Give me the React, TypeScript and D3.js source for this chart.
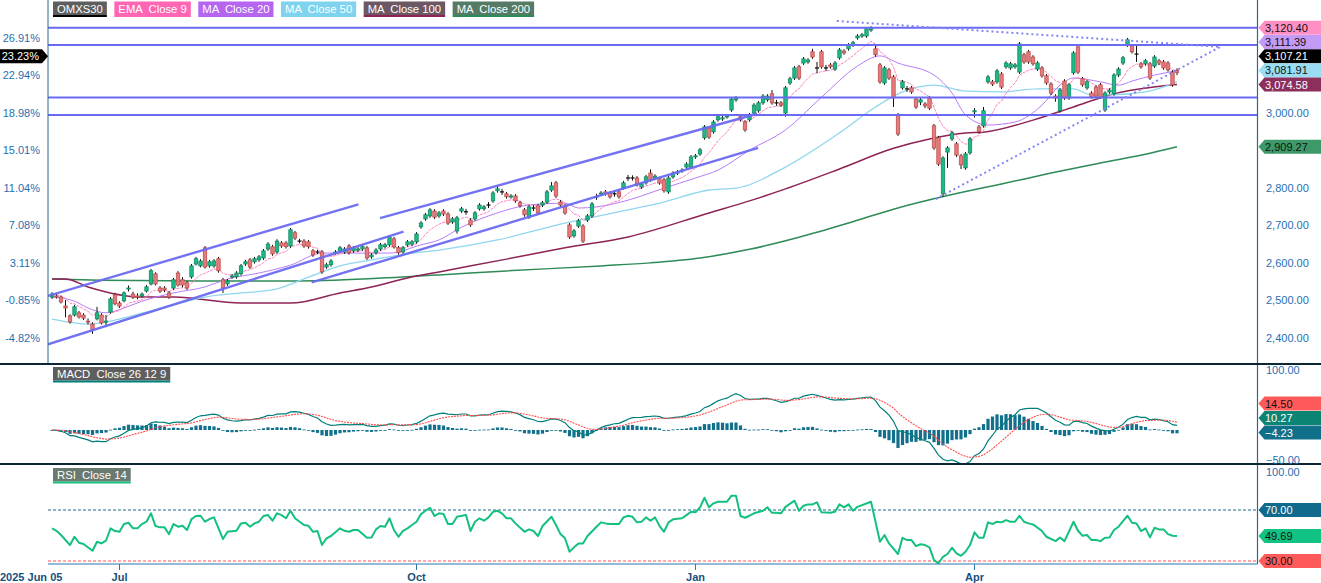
import React, { useEffect, useRef } from "react";
import * as d3 from "d3";

// daily candles from 2025 Jun 05: [open, high, low, close]
const ohlc = [
  [2509, 2522, 2504, 2517], [2512, 2518, 2505, 2509], [2509, 2513, 2492, 2496], [2485, 2501, 2455, 2480], [2459, 2463, 2438, 2443],
  [2461, 2488, 2457, 2483], [2467, 2472, 2452, 2456], [2461, 2466, 2448, 2453], [2445, 2452, 2436, 2443], [2437, 2442, 2411, 2422],
  [2451, 2483, 2447, 2467], [2461, 2466, 2436, 2440], [2443, 2461, 2429, 2445], [2469, 2509, 2465, 2504], [2515, 2520, 2487, 2491],
  [2493, 2498, 2480, 2485], [2499, 2524, 2495, 2520], [2531, 2540, 2524, 2533], [2517, 2523, 2504, 2509], [2512, 2519, 2503, 2509],
  [2512, 2521, 2508, 2517], [2525, 2541, 2521, 2536], [2544, 2584, 2540, 2579], [2571, 2575, 2540, 2544], [2533, 2538, 2520, 2525],
  [2533, 2538, 2522, 2528], [2520, 2525, 2504, 2509], [2533, 2560, 2528, 2555], [2573, 2578, 2537, 2541], [2555, 2562, 2535, 2541],
  [2547, 2552, 2528, 2533], [2563, 2597, 2558, 2592], [2597, 2616, 2593, 2611], [2592, 2610, 2588, 2605], [2640, 2645, 2585, 2589],
  [2592, 2608, 2587, 2603], [2592, 2610, 2587, 2605], [2611, 2616, 2574, 2579], [2555, 2560, 2520, 2533], [2544, 2557, 2539, 2552],
  [2563, 2570, 2558, 2565], [2563, 2578, 2558, 2573], [2571, 2597, 2566, 2592], [2597, 2608, 2592, 2603], [2608, 2613, 2584, 2589],
  [2603, 2616, 2598, 2611], [2608, 2621, 2603, 2616], [2613, 2637, 2608, 2632], [2637, 2655, 2632, 2650], [2643, 2648, 2619, 2624],
  [2629, 2663, 2624, 2658], [2653, 2658, 2640, 2645], [2653, 2658, 2638, 2643], [2645, 2693, 2640, 2688], [2680, 2685, 2661, 2666],
  [2658, 2664, 2652, 2658], [2658, 2663, 2640, 2645], [2656, 2661, 2638, 2643], [2632, 2637, 2616, 2621], [2629, 2635, 2623, 2629],
  [2629, 2634, 2571, 2576], [2589, 2600, 2584, 2595], [2595, 2610, 2590, 2605], [2627, 2634, 2622, 2629], [2632, 2645, 2627, 2640],
  [2629, 2642, 2624, 2637], [2645, 2650, 2622, 2627], [2632, 2645, 2627, 2640], [2634, 2642, 2629, 2637], [2637, 2648, 2632, 2643],
  [2640, 2645, 2608, 2613], [2616, 2626, 2611, 2621], [2627, 2639, 2622, 2634], [2637, 2653, 2632, 2648], [2643, 2653, 2638, 2648],
  [2648, 2674, 2643, 2669], [2664, 2669, 2638, 2643], [2640, 2645, 2622, 2627], [2629, 2645, 2624, 2640], [2648, 2661, 2643, 2656],
  [2650, 2661, 2645, 2656], [2656, 2682, 2651, 2677], [2696, 2711, 2691, 2706], [2717, 2733, 2712, 2728], [2725, 2746, 2720, 2741],
  [2738, 2743, 2717, 2722], [2725, 2738, 2720, 2733], [2738, 2743, 2725, 2730], [2730, 2735, 2701, 2706], [2709, 2722, 2704, 2717],
  [2685, 2725, 2678, 2720], [2738, 2749, 2733, 2744], [2736, 2744, 2728, 2736], [2714, 2719, 2696, 2701], [2717, 2738, 2712, 2733],
  [2744, 2759, 2739, 2754], [2744, 2754, 2739, 2749], [2754, 2762, 2746, 2754], [2765, 2791, 2760, 2786], [2792, 2806, 2787, 2797],
  [2789, 2797, 2781, 2789], [2784, 2789, 2771, 2776], [2776, 2783, 2771, 2778], [2778, 2783, 2760, 2765], [2760, 2765, 2747, 2752],
  [2741, 2746, 2723, 2728], [2722, 2754, 2717, 2749], [2746, 2754, 2738, 2746], [2752, 2757, 2728, 2733], [2754, 2765, 2749, 2760],
  [2762, 2794, 2757, 2789], [2794, 2815, 2789, 2805], [2813, 2818, 2773, 2778], [2762, 2767, 2749, 2754], [2752, 2757, 2728, 2733],
  [2701, 2706, 2664, 2669], [2672, 2690, 2667, 2685], [2698, 2717, 2693, 2712], [2698, 2703, 2653, 2658], [2714, 2730, 2709, 2725],
  [2725, 2762, 2720, 2757], [2776, 2784, 2768, 2776], [2784, 2791, 2779, 2786], [2789, 2794, 2779, 2784], [2786, 2791, 2771, 2776],
  [2784, 2792, 2776, 2784], [2789, 2794, 2771, 2776], [2800, 2818, 2795, 2813], [2826, 2834, 2818, 2826], [2826, 2833, 2819, 2826],
  [2826, 2831, 2803, 2808], [2802, 2815, 2797, 2810], [2813, 2834, 2808, 2829], [2839, 2849, 2816, 2821], [2826, 2836, 2821, 2831],
  [2824, 2829, 2808, 2813], [2821, 2826, 2787, 2792], [2789, 2831, 2784, 2826], [2829, 2844, 2824, 2839], [2839, 2847, 2834, 2842],
  [2845, 2852, 2840, 2847], [2855, 2868, 2850, 2863], [2855, 2887, 2850, 2882], [2882, 2890, 2877, 2885], [2890, 2906, 2885, 2901],
  [2933, 2967, 2928, 2962], [2959, 2964, 2930, 2935], [2949, 2980, 2944, 2975], [2981, 2994, 2976, 2989], [2983, 2991, 2978, 2986],
  [2989, 2996, 2984, 2991], [3007, 3041, 3002, 3036], [3034, 3044, 3029, 3039], [2989, 2994, 2976, 2981], [2975, 2980, 2949, 2954],
  [2981, 2999, 2976, 2994], [2999, 3025, 2994, 3020], [3005, 3031, 3000, 3026], [3026, 3049, 3021, 3044], [3034, 3049, 3029, 3044],
  [3050, 3060, 3021, 3026], [3026, 3034, 3018, 3026], [3026, 3031, 3015, 3020], [2999, 3071, 2989, 3066], [3079, 3095, 3074, 3090],
  [3092, 3124, 3087, 3119], [3122, 3127, 3087, 3092], [3132, 3148, 3127, 3143], [3135, 3145, 3130, 3140], [3162, 3170, 3143, 3148],
  [3119, 3135, 3105, 3119], [3162, 3167, 3117, 3122], [3119, 3127, 3111, 3119], [3127, 3132, 3117, 3122], [3116, 3137, 3111, 3132],
  [3146, 3172, 3141, 3167], [3164, 3169, 3154, 3159], [3170, 3185, 3165, 3180], [3180, 3191, 3175, 3186], [3199, 3209, 3194, 3204],
  [3204, 3212, 3199, 3207], [3204, 3228, 3199, 3223], [3220, 3230, 3215, 3223], [3170, 3178, 3149, 3154], [3127, 3132, 3077, 3082],
  [3079, 3124, 3074, 3119], [3114, 3119, 3087, 3092], [3095, 3100, 3015, 3039], [2994, 2999, 2938, 2943], [3066, 3087, 3061, 3082],
  [3063, 3071, 3055, 3063], [3066, 3071, 3050, 3055], [3036, 3041, 3010, 3015], [3028, 3039, 3020, 3034], [3023, 3028, 3012, 3018],
  [3039, 3044, 3007, 3012], [2965, 2970, 2901, 2906], [2933, 2938, 2858, 2863], [2784, 2884, 2776, 2879], [2895, 2911, 2853, 2906],
  [2930, 2951, 2925, 2946], [2917, 2922, 2882, 2887], [2885, 2890, 2850, 2861], [2853, 2895, 2848, 2890], [2893, 2935, 2888, 2930],
  [3002, 3012, 2987, 3005], [2962, 2967, 2944, 2949], [2965, 3015, 2960, 3005], [3082, 3100, 3077, 3095], [3082, 3087, 3071, 3076],
  [3082, 3116, 3077, 3111], [3103, 3108, 3063, 3068], [3122, 3137, 3117, 3132], [3119, 3135, 3114, 3130], [3122, 3132, 3117, 3127],
  [3108, 3188, 3103, 3183], [3154, 3159, 3130, 3135], [3162, 3167, 3130, 3135], [3148, 3153, 3125, 3130], [3116, 3137, 3111, 3132],
  [3119, 3124, 3093, 3098], [3098, 3103, 3074, 3079], [3076, 3081, 3047, 3052], [3044, 3049, 3029, 3039], [3005, 3065, 3000, 3060],
  [3084, 3089, 3034, 3039], [3039, 3079, 3034, 3074], [3106, 3164, 3101, 3159], [3175, 3180, 3103, 3108], [3090, 3095, 3069, 3074],
  [3066, 3087, 3061, 3082], [3052, 3057, 3037, 3042], [3068, 3073, 3039, 3044], [3074, 3079, 3037, 3042], [3007, 3057, 3002, 3052],
  [3055, 3065, 3050, 3060], [3050, 3105, 3045, 3100], [3100, 3121, 3095, 3116], [3132, 3151, 3127, 3146], [3180, 3199, 3175, 3194],
  [3178, 3183, 3157, 3162], [3156, 3180, 3135, 3156], [3130, 3135, 3117, 3122], [3130, 3143, 3125, 3138], [3130, 3135, 3087, 3092],
  [3124, 3153, 3119, 3148], [3138, 3143, 3127, 3132], [3135, 3140, 3114, 3119], [3132, 3137, 3109, 3114], [3108, 3113, 3069, 3074],
  [3112, 3118, 3100, 3107.21],
];

// moving averages: [day index, price]
const ma20Pts = [
  [0, 2509], [5, 2498], [8, 2480], [12, 2467], [16, 2480], [20, 2498], [27, 2520], [34, 2536], [39, 2557], [46, 2573],
  [53, 2594], [60, 2626], [68, 2626], [75, 2626], [82, 2648], [86, 2661], [91, 2695], [99, 2733], [106, 2754], [114, 2759],
  [117, 2746], [121, 2749], [128, 2767], [136, 2799], [143, 2826], [148, 2847], [155, 2900], [163, 2954], [171, 3041],
  [179, 3124], [184, 3151], [188, 3132], [196, 3100], [200, 3052], [203, 2994], [208, 2967], [214, 2975], [220, 3020],
  [224, 3073], [227, 3092], [233, 3082], [237, 3073], [240, 3084], [245, 3100], [250, 3111.39],
];
const ma50Pts = [
  [0, 2450], [5, 2440], [8, 2437], [12, 2443], [20, 2466], [27, 2488], [34, 2509], [42, 2520], [49, 2528], [57, 2562],
  [64, 2592], [71, 2608], [79, 2624], [86, 2634], [99, 2661], [114, 2706], [128, 2741], [136, 2762], [146, 2794],
  [152, 2799], [163, 2855], [175, 2946], [183, 3015], [189, 3055], [196, 3073], [203, 3057], [211, 3055], [219, 3063],
  [227, 3063], [231, 3047], [235, 3047], [243, 3055], [250, 3081.91],
];
const ma100Pts = [
  [0, 2557], [3, 2557], [8, 2536], [20, 2509], [27, 2509], [42, 2493], [53, 2493], [64, 2520], [71, 2536], [79, 2560],
  [86, 2576], [101, 2610], [114, 2640], [128, 2669], [146, 2733], [155, 2765], [163, 2797], [175, 2850], [187, 2905],
  [195, 2930], [203, 2946], [207, 2948], [218, 2980], [227, 3015], [235, 3047], [250, 3074.58],
];
const ma200Pts = [
  [0, 2557], [11, 2554], [33, 2552], [55, 2552], [77, 2562], [86, 2568], [100, 2578], [122, 2592], [133, 2600],
  [144, 2613], [155, 2636], [166, 2668], [177, 2706], [187, 2743], [200, 2782], [211, 2810], [222, 2839], [233, 2866],
  [244, 2892], [250, 2909.27],
];

// RSI(14): [day index, value]
const rsiPts = [
  [0, 55.6], [1, 53.7], [2, 50.4], [4, 42.5], [5, 49.0], [6, 44.3], [7, 43.3], [9, 38.0], [10, 45.1], [11, 43.8],
  [12, 45.9], [13, 55.6], [14, 53.5], [15, 52.9], [16, 59.0], [17, 60.0], [18, 55.6], [19, 55.6], [20, 59.0], [21, 60.8],
  [22, 67.4], [23, 57.4], [24, 56.4], [25, 56.4], [26, 51.1], [27, 59.0], [28, 56.9], [29, 57.6], [30, 54.3], [31, 62.9],
  [32, 65.3], [33, 65.5], [34, 60.8], [35, 62.9], [36, 64.2], [38, 47.2], [39, 52.9], [41, 53.7], [42, 59.5], [43, 60.0],
  [44, 56.9], [45, 59.5], [46, 60.8], [47, 65.3], [48, 66.0], [49, 61.6], [50, 67.4], [51, 66.0], [52, 63.5], [53, 69.4],
  [54, 63.5], [56, 58.2], [57, 57.6], [58, 52.9], [59, 53.5], [60, 42.5], [61, 47.8], [62, 49.6], [64, 55.6], [65, 53.7],
  [66, 52.9], [67, 54.3], [68, 54.3], [70, 48.2], [71, 48.5], [72, 54.8], [73, 57.4], [74, 56.9], [75, 63.5], [76, 54.3],
  [77, 49.0], [78, 53.7], [79, 55.6], [80, 58.2], [81, 60.8], [82, 66.8], [83, 69.4], [84, 71.8], [85, 65.3], [86, 67.4],
  [87, 66.8], [88, 59.0], [89, 59.0], [90, 64.7], [92, 66.0], [93, 53.5], [94, 60.8], [95, 63.5], [96, 61.6], [97, 64.2],
  [98, 68.6], [99, 69.4], [100, 67.4], [101, 63.5], [102, 63.5], [103, 59.5], [105, 52.9], [106, 54.8], [107, 53.5],
  [108, 49.6], [109, 57.4], [111, 64.7], [112, 58.2], [113, 51.1], [114, 47.8], [115, 37.3], [116, 40.7], [117, 43.8],
  [118, 43.8], [119, 49.6], [121, 56.9], [122, 60.3], [123, 59.5], [124, 59.0], [126, 59.0], [127, 64.2], [128, 65.5],
  [129, 64.7], [130, 60.3], [131, 60.8], [132, 64.2], [133, 61.6], [134, 64.2], [135, 57.6], [136, 52.9], [137, 60.3],
  [138, 62.7], [140, 63.5], [141, 66.0], [142, 68.6], [143, 68.2], [144, 72.1], [145, 79.6], [146, 72.1], [147, 75.2],
  [148, 76.5], [150, 76.5], [151, 81.2], [152, 81.2], [153, 65.3], [154, 63.9], [155, 65.5], [156, 67.4], [158, 69.4],
  [159, 72.1], [160, 67.8], [161, 67.8], [162, 67.4], [163, 72.5], [165, 77.3], [166, 69.4], [167, 73.3], [168, 74.4],
  [169, 74.4], [170, 76.0], [171, 68.2], [173, 67.8], [174, 68.6], [175, 74.4], [176, 72.1], [177, 74.4], [178, 69.4],
  [179, 72.5], [182, 76.5], [184, 45.1], [185, 50.4], [186, 43.8], [188, 35.5], [189, 48.2], [190, 46.4], [191, 46.4],
  [192, 41.7], [193, 43.1], [194, 42.5], [195, 40.7], [196, 30.7], [197, 28.2], [198, 33.3], [199, 35.5], [200, 40.4],
  [201, 36.0], [202, 34.1], [203, 37.3], [204, 42.5], [205, 52.5], [206, 48.2], [207, 48.2], [208, 60.3], [209, 59.0],
  [210, 60.8], [211, 60.3], [212, 62.1], [213, 60.8], [214, 60.8], [215, 65.5], [216, 60.8], [217, 59.5], [218, 58.7],
  [220, 53.5], [221, 49.0], [223, 45.6], [224, 48.5], [225, 45.6], [227, 60.8], [228, 53.7], [229, 49.8], [230, 50.4],
  [231, 46.4], [232, 46.4], [233, 45.6], [234, 48.2], [235, 48.5], [236, 54.3], [237, 56.9], [239, 65.5], [240, 60.0],
  [241, 59.5], [242, 53.5], [243, 55.6], [244, 48.5], [245, 56.1], [246, 54.8], [247, 54.8], [248, 51.1], [249, 49.8],
  [250, 49.69],
];

// drawn support / resistance
const levels = [3226, 3180, 3040, 2994];
const channelLines = [
  [[-0.9, 2512], [68.1, 2756]],
  [[-0.9, 2383], [78.1, 2683]],
  [[72.9, 2719], [156.7, 2997]],
  [[57.7, 2548], [156.9, 2906]],
];
const triangleLines = [
  [[174.4, 3244], [259.6, 3175]],
  [[196.4, 2770], [259.6, 3175]],
];

const priceTicks = [2400, 2500, 2600, 2700, 2800, 2900, 3000, 3100, 3200];
const pctTickPrices = [2400, 2500, 2600, 2700, 2800, 2900, 3000, 3100, 3200];
const pctLabels = ["-4.82%", "-0.85%", "3.11%", "7.08%", "11.04%", "15.01%", "18.98%", "22.94%", "26.91%"];
const dateTickIdx = [0, 15, 81, 143, 205];
const dateLabels = ["2025 Jun 05", "Jul", "Oct", "Jan", "Apr"];
const legendNames = ["OMXS30", "EMA  Close 9", "MA  Close 20", "MA  Close 50", "MA  Close 100", "MA  Close 200"];
// last values: EMA9, MA20, close, MA50, MA100, MA200
const lastValues = [3120.4, 3111.39, 3107.21, 3081.91, 3074.58, 2909.27];
const lastPct = "23.23%";
// last MACD values: signal, macd, histogram
const macdLast = [14.5, 10.27, -4.23];
const macdTicks = [100, 50, -50];
const rsiBands = [70, 30];
const rsiLast = 49.69;

export default function App() {
  const svgRef = useRef(null);

  useEffect(() => {
    const svg = d3.select(svgRef.current);
    svg.selectAll("*").remove();

    const font = "'Liberation Sans', Arial, sans-serif";
    const left = 48;
    const right = 1257.5;
    const axisBlue = "#1f6fb2";

    const x = d3.scaleLinear().domain([0, ohlc.length - 1]).range([52, 1177]);
    const y = d3.scaleLinear().domain([2400, 3200]).range([338, 37.5]);
    const yM = d3.scaleLinear().domain([-50, 100]).range([460, 370]);
    const yR = d3.scaleLinear().domain([30, 70]).range([561, 510]);

    // indicators from closes
    const closes = ohlc.map((d) => d[3]);
    const ema = (arr, n) => {
      const k = 2 / (n + 1);
      let prev = arr[0];
      return arr.map((v, i) => (prev = i === 0 ? v : v * k + prev * (1 - k)));
    };
    const ema9 = ema(closes, 9);
    const e12 = ema(closes, 12);
    const e26 = ema(closes, 26);
    const macd = closes.map((_, i) => e12[i] - e26[i]);
    const signal = ema(macd, 9);
    const hist = macd.map((m, i) => m - signal[i]);

    const defs = svg.append("defs");
    const clip = (id, y0, h) =>
      defs.append("clipPath").attr("id", id).append("rect")
        .attr("x", left).attr("y", y0).attr("width", right - left).attr("height", h);
    clip("clipMain", 0, 363);
    clip("clipMacd", 365, 98);
    clip("clipRsi", 465, 99);

    // ---------- main panel ----------
    const main = svg.append("g").attr("clip-path", "url(#clipMain)");
    const maLine = d3.line().x((d) => x(d[0])).y((d) => y(d[1])).curve(d3.curveMonotoneX);

    const mas = [
      { pts: ma200Pts, color: "#2e8b57", w: 1.5 },
      { pts: ma100Pts, color: "#8e2356", w: 1.5 },
      { pts: ma50Pts, color: "#8fd6ee", w: 1.3 },
      { pts: ma20Pts, color: "#b77cf7", w: 1 },
    ];
    mas.forEach((m) => {
      main.append("path").datum(m.pts).attr("d", maLine)
        .attr("fill", "none").attr("stroke", m.color).attr("stroke-width", m.w);
    });
    main.append("path")
      .datum(ema9)
      .attr("d", d3.line().x((_, i) => x(i)).y((d) => y(d)))
      .attr("fill", "none").attr("stroke", "#ff7fc0").attr("stroke-width", 1)
      .attr("stroke-dasharray", "3,1");

    // candles
    const bw = 3.4;
    const cg = main.append("g");
    ohlc.forEach((d, i) => {
      const [o, h, l, c] = d;
      const cx = x(i);
      cg.append("line").attr("x1", cx).attr("x2", cx).attr("y1", y(h)).attr("y2", y(l))
        .attr("stroke", "#111").attr("stroke-width", 1);
      if (Math.abs(o - c) < 0.5) {
        cg.append("line").attr("x1", cx - 2).attr("x2", cx + 2).attr("y1", y(c)).attr("y2", y(c))
          .attr("stroke", "#111").attr("stroke-width", 1.3);
        return;
      }
      const up = c > o;
      cg.append("rect")
        .attr("x", cx - bw / 2).attr("y", y(Math.max(o, c)))
        .attr("width", bw).attr("height", Math.max(1, Math.abs(y(o) - y(c))))
        .attr("fill", up ? "#1fb987" : "#e47c7c")
        .attr("stroke", up ? "#0f8a60" : "#c04d4d").attr("stroke-width", 0.8);
    });

    // levels, channels, triangle
    levels.forEach((p) => {
      main.append("line").attr("x1", left).attr("x2", right).attr("y1", y(p)).attr("y2", y(p))
        .attr("stroke", "#6a6af2").attr("stroke-width", 2);
    });
    channelLines.forEach((seg) => {
      main.append("line")
        .attr("x1", x(seg[0][0])).attr("y1", y(seg[0][1]))
        .attr("x2", x(seg[1][0])).attr("y2", y(seg[1][1]))
        .attr("stroke", "#6a6af2").attr("stroke-width", 2.4).attr("stroke-opacity", 0.95);
    });
    triangleLines.forEach((seg) => {
      main.append("line")
        .attr("x1", x(seg[0][0])).attr("y1", y(seg[0][1]))
        .attr("x2", x(seg[1][0])).attr("y2", y(seg[1][1]))
        .attr("stroke", "#8484f5").attr("stroke-width", 2).attr("stroke-dasharray", "2,3");
    });

    // axes lines
    svg.append("line").attr("x1", left).attr("x2", left).attr("y1", 0).attr("y2", 363)
      .attr("stroke", "#2a6a8e").attr("stroke-width", 1);
    svg.append("line").attr("x1", right).attr("x2", right).attr("y1", 0).attr("y2", 564)
      .attr("stroke", "#2a6a8e").attr("stroke-width", 1.2);
    [364, 464].forEach((yy) => {
      svg.append("line").attr("x1", 0).attr("x2", 1321).attr("y1", yy).attr("y2", yy)
        .attr("stroke", "#0d2636").attr("stroke-width", 2.2);
    });

    const txt = (g, tx, ty, s, opts = {}) =>
      g.append("text").attr("x", tx).attr("y", ty).text(s)
        .attr("font-family", font).attr("font-size", opts.size || 11)
        .attr("font-weight", opts.weight || "normal")
        .attr("fill", opts.fill || axisBlue)
        .attr("text-anchor", opts.anchor || "start");

    const stack = (vals, scale, gap) => {
      const items = vals.map((v, i) => ({ i, y: scale(v) })).sort((a, b) => b.y - a.y);
      let prev = Infinity;
      items.forEach((it) => {
        it.y = Math.min(it.y, prev - gap);
        prev = it.y;
      });
      const out = [];
      items.forEach((it) => (out[it.i] = it.y));
      return out;
    };
    const lastY = stack(lastValues, y, 14.2);
    const macdY = stack(macdLast, yM, 14.5);
    const free = (yy, taken) => taken.every((t) => Math.abs(t - yy) > 11);

    // right price axis (ticks hidden behind the value tags are skipped)
    priceTicks.forEach((p) => {
      if (free(y(p), lastY)) txt(svg, 1266, y(p) + 4, d3.format(",.2f")(p));
    });
    // left percent axis
    pctTickPrices.forEach((p, k) => {
      if (Math.abs(y(p) - lastY[2]) > 11) txt(svg, 40, y(p) + 4, pctLabels[k], { anchor: "end" });
    });

    // right callouts
    const callout = (cy, fill, label, color) => {
      svg.append("path")
        .attr("d", `M${right + 1},${cy} L${right + 7},${cy - 7} L1321,${cy - 7} L1321,${cy + 7} L${right + 7},${cy + 7} Z`)
        .attr("fill", fill);
      txt(svg, 1265, cy + 4, label, { fill: color });
    };
    const lastFill = ["#ff8fc4", "#c39af5", "#000000", "#9adcf2", "#8d2f5c", "#3d9a68"];
    const lastText = ["#111", "#111", "#fff", "#111", "#fff", "#111"];
    lastValues.forEach((v, k) => callout(lastY[k], lastFill[k], d3.format(",.2f")(v), lastText[k]));

    // left callout for close in percent
    const cy0 = lastY[2];
    svg.append("path")
      .attr("d", `M0,${cy0 - 7} L42,${cy0 - 7} L48,${cy0} L42,${cy0 + 7} L0,${cy0 + 7} Z`)
      .attr("fill", "#000");
    txt(svg, 39, cy0 + 4, lastPct, { anchor: "end", fill: "#fff" });

    // ---------- MACD panel ----------
    const mg = svg.append("g").attr("clip-path", "url(#clipMacd)");
    ohlc.forEach((_, i) => {
      const v = hist[i];
      mg.append("rect").attr("x", x(i) - 1.6).attr("width", 3.2)
        .attr("y", Math.min(yM(0), yM(v))).attr("height", Math.max(0.8, Math.abs(yM(v) - yM(0))))
        .attr("fill", "#12708c");
    });
    mg.append("path").datum(macd)
      .attr("d", d3.line().x((_, i) => x(i)).y((d) => yM(d)))
      .attr("fill", "none").attr("stroke", "#007f7a").attr("stroke-width", 1.2);
    mg.append("path").datum(signal)
      .attr("d", d3.line().x((_, i) => x(i)).y((d) => yM(d)))
      .attr("fill", "none").attr("stroke", "#ff4d4d").attr("stroke-width", 1.1)
      .attr("stroke-dasharray", "2,1");
    macdTicks.forEach((t) => {
      if (free(yM(t), macdY)) txt(svg, 1266, yM(t) + 4, d3.format(".2f")(t));
    });
    const macdFill = ["#ff5a5a", "#0b8474", "#10708a"];
    const macdTxt = ["#111", "#fff", "#fff"];
    macdLast.forEach((v, k) => callout(macdY[k], macdFill[k], d3.format(".2f")(v), macdTxt[k]));

    // ---------- RSI panel ----------
    const rg = svg.append("g").attr("clip-path", "url(#clipRsi)");
    const bandColor = ["#1b6a8c", "#ff5050"];
    rsiBands.forEach((b, k) => {
      rg.append("line").attr("x1", left).attr("x2", right).attr("y1", yR(b)).attr("y2", yR(b))
        .attr("stroke", bandColor[k]).attr("stroke-width", 1).attr("stroke-dasharray", "3,2");
    });
    rg.append("path").datum(rsiPts)
      .attr("d", d3.line().x((d) => x(d[0])).y((d) => yR(d[1])))
      .attr("fill", "none").attr("stroke", "#14c07e").attr("stroke-width", 2)
      .attr("stroke-linejoin", "round");
    txt(svg, 1266, yR(100) + 4, "100.00");
    callout(yR(70), "#0f6a8b", "70.00", "#fff");
    callout(yR(rsiLast), "#12c282", d3.format(".2f")(rsiLast), "#111");
    callout(yR(30), "#ff5a5a", "30.00", "#111");

    // ---------- date axis ----------
    svg.append("line").attr("x1", left).attr("x2", right).attr("y1", 564).attr("y2", 564)
      .attr("stroke", "#2a7ab0").attr("stroke-width", 1.2);
    dateTickIdx.forEach((idx, k) => {
      const tx = x(idx);
      if (k > 0) {
        svg.append("line").attr("x1", tx).attr("x2", tx).attr("y1", 564).attr("y2", 570)
          .attr("stroke", "#2a7ab0").attr("stroke-width", 1);
      }
      // the first (full date) label sits flush with the page's left edge
      txt(svg, k === 0 ? 0 : tx, 581, dateLabels[k], {
        anchor: k === 0 ? "start" : "middle",
        weight: "bold",
        fill: "#17507e",
        size: 11,
      });
    });

    // ---------- legends ----------
    const legend = (names, fills, lines, y0) => {
      let lx = 53;
      names.forEach((name, k) => {
        const g = svg.append("g");
        const r = g.append("rect").attr("x", lx).attr("y", y0).attr("height", 13.5).attr("fill", fills[k]);
        const t = txt(g, lx + 4, y0 + 11, name, { fill: "#fff", size: 11.3 }).attr("xml:space", "preserve");
        const w = t.node().getComputedTextLength() + 8;
        r.attr("width", w);
        g.append("rect").attr("x", lx).attr("y", y0 + 13.5).attr("width", w).attr("height", 2)
          .attr("fill", lines[k]);
        lx += w + 7.5;
      });
    };
    legend(
      legendNames,
      ["#5e5e5e", "#ff66b3", "#b565f0", "#7fd3ee", "#6b5862", "#557a66"],
      ["#000", "#ff66b3", "#b565f0", "#7fd3ee", "#8e2356", "#2e8b57"],
      1.5,
    );
    legend(["MACD  Close 26 12 9"], ["#5e5e5e"], ["#007f7a"], 367);
    legend(["RSI  Close 14"], ["#6a7a70"], ["#14c07e"], 468);
  }, []);

  return (
    <svg
      ref={svgRef}
      width={1321}
      height={583}
      style={{ position: "fixed", left: 0, top: 0, background: "#fff" }}
    />
  );
}
